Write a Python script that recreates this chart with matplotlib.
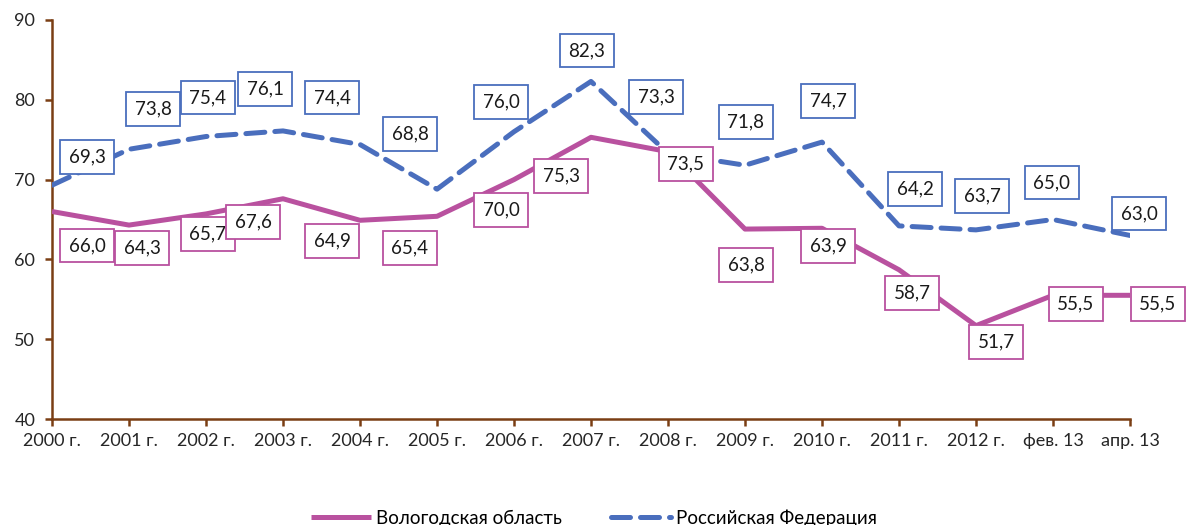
import matplotlib.pyplot as plt
import numpy as np

plt.rcdefaults()
plt.rcParams['font.family'] = ['Lato', 'DejaVu Sans']

periods = ['2000 г.', '2001 г.', '2002 г.', '2003 г.', '2004 г.', '2005 г.',
           '2006 г.', '2007 г.', '2008 г.', '2009 г.', '2010 г.', '2011 г.',
           '2012 г.', 'фев. 13', 'апр. 13']
vologda = [66.0, 64.3, 65.7, 67.6, 64.9, 65.4, 70.0, 75.3, 73.5,
           63.8, 63.9, 58.7, 51.7, 55.5, 55.5]
russia = [69.3, 73.8, 75.4, 76.1, 74.4, 68.8, 76.0, 82.3, 73.3,
          71.8, 74.7, 64.2, 63.7, 65.0, 63.0]

# label box offsets in pixels (dx, dy), hand-placed like in the original
vologda_off = [(35, -34), (13, -23), (2, -20), (-30, -23), (-28, -21),
               (-27, -32), (-13, -30), (-30, -39), (18, -12), (1, -36),
               (6, -18), (13, -23), (20, -16), (23, -9), (28, -9)]
russia_off = [(35, 28), (24, 40), (2, 39), (-18, 42), (-28, 47),
              (-27, 55), (-13, 30), (-4, 31), (-12, 56), (1, 43),
              (6, 41), (16, 37), (6, 34), (-1, 37), (9, 22)]

magenta = '#B9519F'
blue = '#4A6EBD'
axis_col = '#7A3E14'

fig = plt.figure(figsize=(11.88, 5.25), dpi=100)
ax = fig.add_axes([52 / 1188, 1 - 419 / 525, (1130 - 52) / 1188, (419 - 20) / 525])

x = np.arange(len(periods))
ax.plot(x, russia, color=blue, lw=3.6, ls=(0, (3.8, 2.0)),
        dash_capstyle='round', solid_capstyle='round', zorder=3,
        label='Российская Федерация')
ax.plot(x, vologda, color=magenta, lw=3.6, solid_capstyle='butt', zorder=4,
        label='Вологодская область')

for xi, v, off in zip(x, russia, russia_off):
    ax.annotate(f'{v:.1f}'.replace('.', ','), (xi, v), xytext=off,
                textcoords='offset pixels', ha='center', va='center',
                fontsize=13.5, color='#1a1a1a', zorder=6,
                bbox=dict(boxstyle='square,pad=0.45', fc='white', ec=blue, lw=1.3))
for xi, v, off in zip(x, vologda, vologda_off):
    ax.annotate(f'{v:.1f}'.replace('.', ','), (xi, v), xytext=off,
                textcoords='offset pixels', ha='center', va='center',
                fontsize=13.5, color='#1a1a1a', zorder=6,
                bbox=dict(boxstyle='square,pad=0.45', fc='white', ec=magenta, lw=1.3))

ax.set_xlim(0, len(periods) - 1)
ax.set_ylim(40, 90)
ax.set_yticks(range(40, 91, 10))
ax.set_xticks(x)
ax.set_xticklabels(periods)

for s in ['top', 'right']:
    ax.spines[s].set_visible(False)
for s in ['left', 'bottom']:
    ax.spines[s].set_color(axis_col)
    ax.spines[s].set_linewidth(1.8)
ax.tick_params(axis='both', colors=axis_col, width=1.8, length=5,
               labelsize=13, labelcolor='#262626')
ax.tick_params(axis='x', pad=5)
ax.tick_params(axis='y', pad=7)

handles, labels = ax.get_legend_handles_labels()
fig.legend(handles[::-1], labels[::-1], loc='center', bbox_to_anchor=(0.5, 1 - 518 / 525),
           ncol=2, frameon=False, fontsize=13.5, handlelength=3.2,
           columnspacing=2.6, handletextpad=0.3)

fig.savefig('out.png', dpi=100)
